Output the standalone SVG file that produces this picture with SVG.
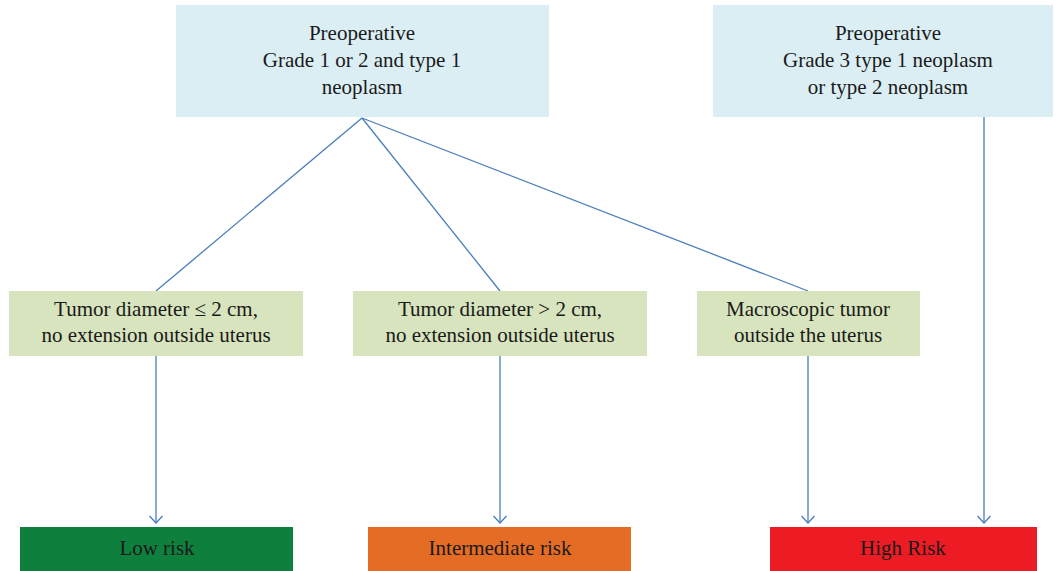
<svg xmlns="http://www.w3.org/2000/svg" width="1057" height="571" viewBox="0 0 1057 571">
<defs>
<style>
text{font-family:"Liberation Serif","DejaVu Serif",serif;font-size:21px;fill:#1a1a1a;text-anchor:middle}
.blue{fill:#daeef3}
.green{fill:#d7e4bd}
.conn{stroke:#4a7ebb;stroke-width:1.3;fill:none}
</style>
<marker id="arr" markerWidth="10" markerHeight="16" refX="8" refY="8" orient="auto" markerUnits="userSpaceOnUse" viewBox="0 0 10 16">
<path d="M1,1.5 L8,8 L1,14.5" fill="none" stroke="#4a7ebb" stroke-width="1.3"/>
</marker>
</defs>
<rect width="1057" height="571" fill="#ffffff"/>
<g id="connectors">
<line class="conn" x1="362" y1="118" x2="156" y2="291"/>
<line class="conn" x1="362" y1="118" x2="500" y2="291"/>
<line class="conn" x1="362" y1="118" x2="808" y2="291"/>
<line class="conn" x1="156" y1="356" x2="156" y2="523" marker-end="url(#arr)"/>
<line class="conn" x1="500" y1="356" x2="500" y2="523" marker-end="url(#arr)"/>
<line class="conn" x1="808" y1="356" x2="808" y2="523" marker-end="url(#arr)"/>
<line class="conn" x1="984" y1="117" x2="984" y2="523" marker-end="url(#arr)"/>
</g>
<g id="pre1">
<rect class="blue" x="176" y="5" width="373" height="112"/>
<text x="362" y="40">Preoperative</text>
<text x="362" y="67">Grade 1 or 2 and type 1</text>
<text x="362" y="94">neoplasm</text>
</g>
<g id="pre2">
<rect class="blue" x="713" y="5" width="340" height="112"/>
<text x="888" y="40">Preoperative</text>
<text x="888" y="67">Grade 3 type 1 neoplasm</text>
<text x="888" y="94">or type 2 neoplasm</text>
</g>
<g id="small">
<rect class="green" x="9" y="291" width="294" height="65"/>
<text x="156" y="316">Tumor diameter ≤ 2 cm,</text>
<text x="156" y="342">no extension outside uterus</text>
</g>
<g id="large">
<rect class="green" x="353" y="291" width="294" height="65"/>
<text x="500" y="316">Tumor diameter &gt; 2 cm,</text>
<text x="500" y="342">no extension outside uterus</text>
</g>
<g id="macro">
<rect class="green" x="697" y="291" width="223" height="65"/>
<text x="808" y="316">Macroscopic tumor</text>
<text x="808" y="342">outside the uterus</text>
</g>
<g id="low">
<rect x="20" y="527" width="273" height="44" fill="#0f7f3e"/>
<text x="157" y="555">Low risk</text>
</g>
<g id="inter">
<rect x="368" y="527" width="263" height="44" fill="#e46c25"/>
<text x="500" y="555">Intermediate risk</text>
</g>
<g id="high">
<rect x="770" y="527" width="267" height="44" fill="#ed1c24"/>
<text x="903" y="555">High Risk</text>
</g>
</svg>
